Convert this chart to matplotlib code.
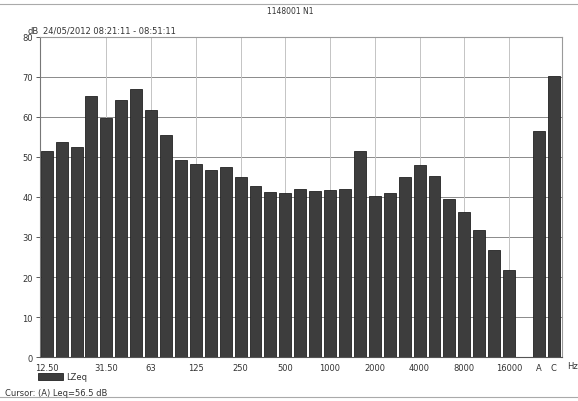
import numpy as np
import matplotlib
matplotlib.use('Agg')
import matplotlib.pyplot as plt
from matplotlib.lines import Line2D

# third-octave bands 12.5 Hz .. 16 kHz
bands = ['12.50', '16', '20', '25', '31.50', '40', '50', '63', '80', '100',
         '125', '160', '200', '250', '315', '400', '500', '630', '800', '1000',
         '1250', '1600', '2000', '2500', '3150', '4000', '5000', '6300', '8000',
         '10000', '12500', '16000']
lzeq = [51.4, 53.8, 52.4, 65.3, 59.7, 64.3, 66.9, 61.8, 55.6, 49.3,
        48.2, 46.8, 47.4, 45.0, 42.7, 41.3, 40.9, 42.0, 41.5, 41.7,
        41.9, 51.6, 40.2, 41.1, 44.9, 48.0, 45.2, 39.5, 36.2, 31.8,
        26.7, 21.8]
# overall weighted levels
totals = ['A', 'C']
total_vals = [56.5, 70.3]

labelled = ['12.50', '31.50', '63', '125', '250', '500', '1000', '2000',
            '4000', '8000', '16000']

W, H = 578, 402
fig = plt.figure(figsize=(W / 100, H / 100), dpi=100)
ax = fig.add_axes([40 / W, 1 - 358 / H, 522 / W, 320 / H])

x_bands = np.arange(len(bands))
x_tot = np.arange(len(bands) + 1, len(bands) + 1 + len(totals))
bar_col = '#3d3d3d'
bars = ax.bar(x_bands, lzeq, width=0.8, color=bar_col, edgecolor='#222222', linewidth=0.6, zorder=3)
ax.bar(x_tot, total_vals, width=0.8, color=bar_col, edgecolor='#222222', linewidth=0.6, zorder=3)

ax.set_xlim(-0.45, 34.55)
ax.set_ylim(0, 80)
ax.set_yticks(np.arange(0, 81, 10))

tick_pos = [bands.index(b) for b in labelled] + list(x_tot)
ax.set_xticks(tick_pos)
ax.set_xticklabels(labelled + totals, fontsize=6, color='#333333')
ax.tick_params(axis='x', length=0, pad=4)
ax.tick_params(axis='y', labelsize=6, length=3, width=0.6, colors='#444444', pad=2)
for t in ax.get_yticklabels():
    t.set_color('#333333')

# grid
for v in range(10, 80, 10):
    ax.axhline(v, color='#8a8a8a', lw=0.7, zorder=1)
for p in tick_pos[1:11]:
    ax.axvline(p, color='#c4c4c4', lw=0.7, zorder=1)

for s in ax.spines.values():
    s.set_color('#9a9a9a')
    s.set_linewidth(0.8)
ax.spines['left'].set_color('#777777')
ax.spines['bottom'].set_color('#555555')

fig.text(290 / W, 1 - 12 / H, '1148001 N1', fontsize=5.5, ha='center', va='center', color='#333333')
fig.text(27 / W, 1 - 31 / H, 'dB', fontsize=6, ha='left', va='center', color='#333333')
fig.text(43 / W, 1 - 31 / H, '24/05/2012 08:21:11 - 08:51:11', fontsize=6, ha='left', va='center', color='#333333')
fig.text(567 / W, 1 - 367 / H, 'Hz', fontsize=6, ha='left', va='center', color='#333333')
fig.text(5 / W, 1 - 394 / H, 'Cursor: (A) Leq=56.5 dB', fontsize=6, ha='left', va='center', color='#333333')

fig.legend(handles=[bars], labels=['LZeq'], loc='center left',
           bbox_to_anchor=(38 / W, 1 - 378 / H), frameon=False, fontsize=6,
           handlelength=3.0, handleheight=1.0, handletextpad=0.4, borderpad=0,
           borderaxespad=0, labelcolor='#333333')

# page edges
fig.add_artist(Line2D([0, 1], [1 - 5 / H, 1 - 5 / H], color='#aaaaaa', lw=0.8))
fig.add_artist(Line2D([0, 1], [1 - 398 / H, 1 - 398 / H], color='#aaaaaa', lw=0.8))

fig.savefig('out.png', dpi=100)
